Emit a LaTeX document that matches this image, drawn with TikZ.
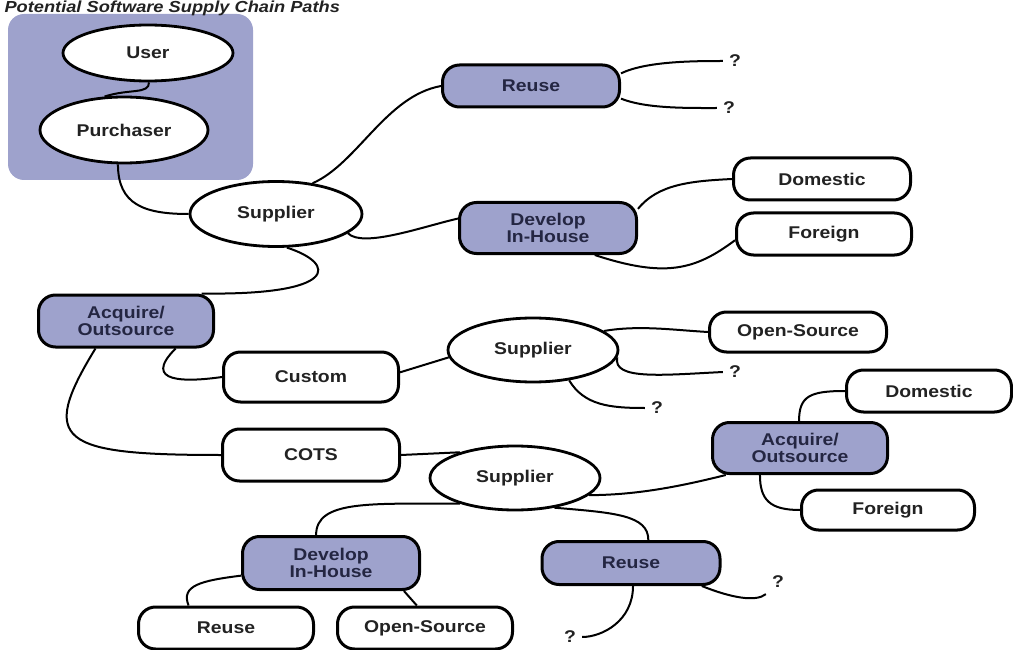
\documentclass[tikz,border=0pt]{standalone}
\usepackage{fontspec}
\setmainfont{Liberation Sans}[FakeStretch=1.14]
\usetikzlibrary{shapes.geometric}
\definecolor{boxblue}{RGB}{158,162,204}
\definecolor{inkgray}{RGB}{34,34,34}
\definecolor{inknavy}{RGB}{36,38,66}
\tikzstyle{party} = [ellipse, draw=black, line width=2.8pt, fill=white, minimum width=170pt, minimum height=64pt, inner sep=0pt, text=inkgray]
\tikzstyle{pathbox} = [rectangle, rounded corners=17pt, draw=black, line width=3pt, fill=boxblue, minimum width=177pt, minimum height=51pt, inner sep=0pt, align=center, text=inknavy]
\tikzstyle{leafbox} = [rectangle, rounded corners=17pt, draw=black, line width=3pt, fill=white, minimum width=175pt, minimum height=43pt, inner sep=0pt, text=inkgray]
\tikzstyle{qmark} = [inner sep=6pt, text=inkgray]
\tikzstyle{link} = [line width=2pt, black]

\begin{document}
\begin{tikzpicture}[x=1pt, y=-1pt, font=\bfseries\fontsize{17}{17}\selectfont]
		\useasboundingbox (0,0) rectangle (1013,650);
		\fill [boxblue, rounded corners=16pt] (8,14) rectangle (253,180);
		\node (title) [anchor=base west, font=\bfseries\itshape\fontsize{16}{16}\selectfont, text=inkgray] at (1,12.5) {Potential Software Supply Chain Paths};
		% buyers
		\node (user) [party, minimum width=170pt, minimum height=56pt] at (148,53) {User};
		\node (purch) [party, minimum width=168pt, minimum height=66pt] at (124,130) {Purchaser};
		\node (sup1) [party, minimum width=172pt, minimum height=65pt] at (276,214) {Supplier};
		% upper branch
		\node (reuseA) [pathbox, minimum height=42pt] at (531,86) {Reuse};
		\node (devA) [pathbox] at (548,228) {Develop\\In-House};
		\node (domA) [leafbox, minimum width=177pt, minimum height=42pt] at (822,179) {Domestic};
		\node (forA) [leafbox, minimum height=42pt] at (824,234) {Foreign};
		\node (q1) [qmark] at (735,61) {?};
		\node (q2) [qmark] at (729,108) {?};
		% acquire branch
		\node (acqA) [pathbox, minimum width=175pt, minimum height=52pt] at (126,321) {Acquire/\\Outsource};
		\node (custom) [leafbox, minimum height=50pt] at (311,377) {Custom};
		\node (cots) [leafbox, minimum width=177pt, minimum height=52pt] at (311,455) {COTS};
		\node (sup2) [party] at (533,350) {Supplier};
		\node (osA) [leafbox, minimum width=177pt, minimum height=40pt] at (798,332) {Open-Source};
		\node (q3) [qmark] at (735,372) {?};
		\node (q4) [qmark] at (657,408) {?};
		\node (sup3) [party] at (515,478) {Supplier};
		\node (acqB) [pathbox, minimum width=175pt] at (800,448) {Acquire/\\Outsource};
		\node (domB) [leafbox, minimum width=165pt, minimum height=42pt] at (929,391) {Domestic};
		\node (forB) [leafbox, minimum width=173pt, minimum height=40pt] at (888,510) {Foreign};
		\node (devB) [pathbox, minimum height=53pt] at (331,563) {Develop\\In-House};
		\node (reuseB) [pathbox, minimum width=178pt, minimum height=43pt] at (631,563) {Reuse};
		\node (reuseC) [leafbox, minimum height=42pt] at (226,628) {Reuse};
		\node (osB) [leafbox, minimum height=42pt] at (425,628) {Open-Source};
		\node (q5) [qmark] at (570,637) {?};
		\node (q6) [qmark] at (778,582) {?};
		% connectors
		\draw [link] (user.-88) .. controls +(0,12) and +(25,-8) .. (purch.120);
		\draw [link] (purch.-100) .. controls +(0,40) and +(-45,0) .. (sup1.west);
		\draw [link] (sup1.40) .. controls +(45,-20) and +(-55,10) .. (reuseA.west);
		\draw [link] (sup1.-15) .. controls +(15,15) and +(-35,8) .. (devA.174);
		\draw [link] (sup1.-72) .. controls +(50,16) and +(138,2) .. (acqA.20);
		\draw [link] (reuseA.8) .. controls +(25,-12) and +(-30,0) .. (q1.west);
		\draw [link] (reuseA.-8) .. controls +(25,10) and +(-30,0) .. (q2.west);
		\draw [link] (devA.12) .. controls +(20,-25) and +(-40,2) .. (domA.west);
		\draw [link] (devA.-30) .. controls +(70,23) and +(-40,30) .. (forA.184);
		\draw [link] (acqA.-29) .. controls +(-35,35) and +(-35,5) .. (custom.west);
		\draw [link] (acqA.-138) .. controls +(-57,93) and +(-162,0) .. (cots.west);
		\draw [link] (custom.3) -- (sup2.185);
		\draw [link] (sup2.15) .. controls +(35,-6) and +(-35,-2) .. (osA.west);
		\draw [link] (sup2.-5) .. controls +(-5,23) and +(-60,3) .. (q3.west);
		\draw [link] (sup2.-40) .. controls +(15,25) and +(-35,0) .. (q4.west);
		\draw [link] (cots.east) -- (sup3.155);
		\draw [link] (sup3.-13) .. controls +(50,0) and +(-40,10) .. (acqB.-160);
		\draw [link] (acqB.92) .. controls +(0,-25) and +(-35,0) .. (domB.west);
		\draw [link] (acqB.-146) .. controls +(0,25) and +(-30,0) .. (forB.west);
		\draw [link] (sup3.-155) .. controls +(-90,0) and +(0,-35) .. (devB.118);
		\draw [link] (sup3.-37) .. controls +(60,5) and +(0,-25) .. (reuseB.53);
		\draw [link] (devB.-172) .. controls +(-40,5) and +(-8,-20) .. (reuseC.149);
		\draw [link] (devB.-21) -- (osB.110);
		\draw [link] (reuseB.-85) .. controls +(0,35) and +(20,0) .. (q5.east);
		\draw [link] (reuseB.-18) .. controls +(30,12) and +(-10,8) .. (q6.south west);
\end{tikzpicture}
\end{document}
